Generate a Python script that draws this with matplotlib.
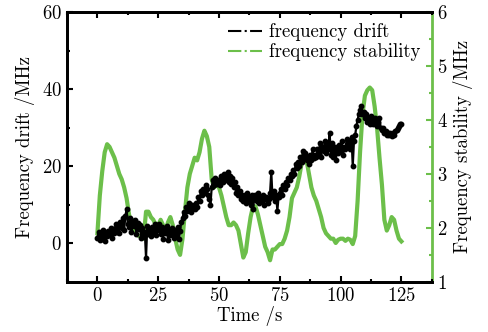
import numpy as np
import matplotlib
matplotlib.use("Agg")
import matplotlib.pyplot as plt
from matplotlib.lines import Line2D
from matplotlib.ticker import MultipleLocator

plt.rcParams['font.family'] = ['cmr10', 'DejaVu Serif']
plt.rcParams['axes.formatter.use_mathtext'] = True
plt.rcParams['mathtext.fontset'] = 'cm'

# frequency drift (MHz), sampled every 0.5 s from 0 to 125 s
drift_t = np.arange(0, 125.01, 0.5)
drift = [
    1.5, 3.0, 0.8, 2.5, 1.2, 3.5, 0.5, 2.8, 1.8, 3.2,
    2.2, 4.0, 1.5, 3.8, 2.6, 5.0, 3.0, 4.5, 2.8, 5.5,
    4.0, 6.5, 3.5, 7.0, 8.8, 5.0, 4.2, 6.5, 3.0, 5.8,
    4.5, 6.0, 2.5, 5.2, 3.8, 4.8, 1.5, 4.0, 2.0, 3.0,
    -3.8, 4.5, 2.5, 3.8, 1.8, 4.2, 3.0, 5.0, 2.2, 4.0,
    3.5, 5.0, 2.5, 4.2, 1.2, 3.8, 2.8, 4.5, 0.8, 3.5,
    2.2, 4.0, 3.0, 1.5, 3.5, 2.0, 4.2, 1.0, 3.2, 5.5,
    6.5, 8.0, 7.0, 9.5, 8.5, 10.5, 9.0, 8.2, 10.0, 9.2,
    8.8, 10.5, 9.5, 12.0, 11.0, 13.5, 12.5, 14.0, 13.0, 15.0,
    14.0, 12.5, 11.5, 10.0, 14.5, 16.5, 15.0, 17.0, 15.5, 16.5,
    16.0, 15.0, 17.5, 16.0, 18.0, 16.5, 17.0, 18.5, 16.0, 17.5,
    15.5, 17.0, 14.5, 16.0, 13.0, 14.5, 12.5, 13.5, 11.5, 12.5,
    11.0, 12.5, 10.5, 13.0, 11.5, 12.0, 10.0, 12.5, 9.0, 11.5,
    12.5, 11.0, 13.0, 10.5, 12.0, 11.0, 12.5, 10.0, 11.5, 12.0,
    10.5, 11.5, 13.0, 18.5, 12.0, 13.5, 11.0, 12.5, 8.5, 12.0,
    13.0, 14.0, 12.5, 15.0, 14.0, 16.0, 15.0, 17.0, 16.5, 18.0,
    17.5, 19.0, 18.0, 20.5, 19.5, 21.0, 20.0, 22.5, 21.0, 24.0,
    22.0, 23.5, 21.5, 22.5, 20.5, 23.0, 21.5, 24.5, 22.0, 23.0,
    22.5, 24.5, 23.0, 26.0, 22.5, 25.0, 24.0, 26.5, 23.5, 25.5,
    24.5, 28.5, 23.0, 26.0, 22.5, 25.0, 21.5, 24.0, 23.5, 25.5,
    24.0, 26.5, 23.0, 25.0, 24.5, 27.0, 25.0, 26.0, 24.5, 27.5,
    20.0, 26.5, 28.0, 30.5, 32.0, 33.5, 34.5, 35.5, 33.5, 34.0,
    32.5, 33.5, 31.5, 32.5, 31.0, 33.0, 32.0, 31.0, 32.5, 31.5,
    30.5, 31.5, 32.5, 30.0, 29.5, 30.0, 28.5, 29.0, 28.0, 28.5,
    28.0, 28.5, 27.8, 28.6, 28.2, 29.0, 29.5, 30.0, 30.5, 31.0,
    31.0,
]

# frequency stability (MHz), sampled every 1 s
stab_t = np.arange(0, 126, 1)
stability = [
    1.9, 2.6, 3.05, 3.4, 3.55, 3.5, 3.4, 3.3, 3.15, 3.0,
    2.9, 2.75, 2.55, 2.25, 2.05, 1.95, 1.9, 1.85, 1.85, 1.8,
    2.3, 2.3, 2.2, 2.15, 2.05, 2.05, 2.15, 2.05, 1.95, 2.1,
    2.2, 2.05, 1.8, 1.6, 1.5, 1.8, 2.3, 2.75, 3.0, 3.15,
    3.3, 3.25, 3.4, 3.65, 3.8, 3.7, 3.5, 2.9, 2.75, 2.8,
    2.75, 2.6, 2.4, 2.2, 2.05, 2.05, 2.1, 2.05, 1.95, 1.7,
    1.45, 1.55, 1.9, 2.2, 2.4, 2.4, 2.25, 2.05, 1.85, 1.65,
    1.55, 1.4, 1.6, 1.6, 1.65, 1.7, 1.7, 1.8, 1.95, 2.2,
    2.55, 2.65, 2.75, 2.95, 3.2, 3.4, 3.25, 3.0, 2.75, 2.6,
    2.5, 2.35, 2.2, 2.0, 1.9, 1.85, 1.8, 1.8, 1.72, 1.78,
    1.8, 1.8, 1.76, 1.8, 1.78, 1.7, 1.85, 2.5, 3.4, 4.1,
    4.45, 4.55, 4.6, 4.55, 4.25, 3.85, 3.3, 2.8, 2.15, 1.95,
    2.05, 2.2, 2.15, 1.95, 1.8, 1.75,
]

green = '#6cbf4a'

fig = plt.figure(figsize=(4.89, 3.32), dpi=100)
ax = fig.add_axes([0.137, 0.151, 0.746, 0.813])
ax2 = ax.twinx()

ax.plot(drift_t, drift, color='black', lw=1.6, marker='o', ms=3.2, zorder=3)
ax2.plot(stab_t, stability, color=green, lw=3, solid_joinstyle='round')
ax.set_zorder(ax2.get_zorder() + 1)
ax.patch.set_visible(False)

ax.set_xlim(-12.5, 137.5)
ax.set_ylim(-10, 60)
ax2.set_ylim(1, 6)
ax.set_xticks([0, 25, 50, 75, 100, 125])
ax.xaxis.set_minor_locator(MultipleLocator(12.5))
ax.set_yticks([0, 20, 40, 60])
ax.yaxis.set_minor_locator(MultipleLocator(10))
ax2.set_yticks([1, 2, 3, 4, 5, 6])
ax2.yaxis.set_minor_locator(MultipleLocator(0.5))

ax.tick_params(which='both', direction='in', top=True, right=False, labelsize=13.5, width=1.5)
ax.tick_params(which='major', length=4)
ax.tick_params(which='minor', length=2.5)
ax2.tick_params(which='both', direction='in', colors=green, labelcolor='black', labelsize=13.5, width=1.5)
ax2.tick_params(which='major', length=4)
ax2.tick_params(which='minor', length=2.5)

for s in ['left', 'top', 'bottom']:
    ax.spines[s].set_linewidth(2)
    ax2.spines[s].set_linewidth(2)
ax.spines['right'].set_visible(False)
ax2.spines['right'].set_color(green)
ax2.spines['right'].set_linewidth(2)

ax.set_xlabel('Time /s', fontsize=13.5, labelpad=1)
ax.set_ylabel('Frequency drift /MHz', fontsize=13.5, labelpad=5)
ax2.set_ylabel('Frequency stability /MHz', fontsize=13.5, labelpad=4)

handles = [
    Line2D([], [], color='black', lw=1.5, ls='-.'),
    Line2D([], [], color=green, lw=1.5, ls='-.'),
]
ax.legend(handles, ['frequency drift', 'frequency stability'], loc='upper right',
          frameon=False, fontsize=13.5, handlelength=1.8, handletextpad=0.4,
          borderaxespad=0.2, labelspacing=0.1)

fig.savefig('out.png', dpi=100)
